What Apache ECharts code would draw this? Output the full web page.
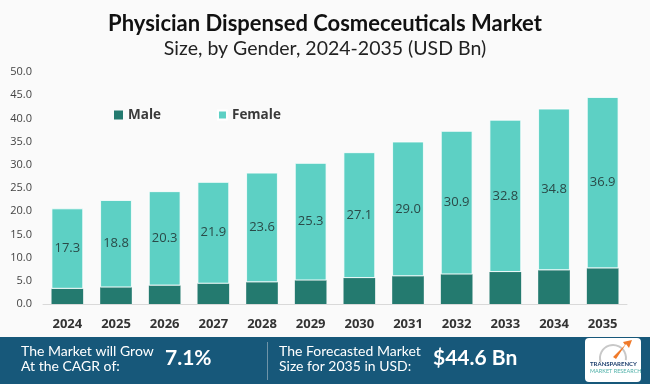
<!DOCTYPE html>
<html>
<head>
<meta charset="utf-8">
<script src="https://cdn.jsdelivr.net/npm/echarts@6/dist/echarts.min.js"></script>
<style>
html,body{margin:0;padding:0;background:#fafafa;}
#c{width:650px;height:384px;}
</style>
</head>
<body>
<div id="c"></div>
<script>
var years = ['2024','2025','2026','2027','2028','2029','2030','2031','2032','2033','2034','2035'];
var male = [3.3, 3.6, 4.0, 4.4, 4.7, 5.1, 5.6, 6.0, 6.4, 6.9, 7.3, 7.7];
var female = [17.3, 18.8, 20.3, 21.9, 23.6, 25.3, 27.1, 29.0, 30.9, 32.8, 34.8, 36.9];
var yTicks = [0, 5, 10, 15, 20, 25, 30, 35, 40, 45, 50];

var chart = echarts.init(document.getElementById('c'));
chart.setOption({
  backgroundColor: '#fafafa',
  animation: false,
  title: [{
    text: 'Physician Dispensed Cosmeceuticals Market',
    left: 'center', top: 8,
    textStyle: {fontFamily: 'Lato', fontWeight: 'bold', fontSize: 22, color: '#111'}
  }, {
    text: 'Size, by Gender, 2024-2035 (USD Bn)',
    left: 'center', top: 34,
    textStyle: {fontFamily: 'Lato', fontWeight: 'normal', fontSize: 19.5, color: '#222'}
  }],
  legend: {
    left: 109, top: 103,
    itemWidth: 9, itemHeight: 9, itemGap: 56,
    icon: 'rect',
    textStyle: {fontFamily: 'Open Sans', fontWeight: 'bold', fontSize: 13.5, color: '#3a3a3a'},
    data: ['Male', 'Female']
  },
  grid: {left: 43, right: 23, top: 72, bottom: 80},
  xAxis: {
    type: 'category',
    data: years,
    axisLine: {lineStyle: {color: '#d9d9d9'}},
    axisTick: {show: false},
    axisLabel: {fontFamily: 'Open Sans', fontWeight: 'bold', fontSize: 13, color: '#333', margin: 14}
  },
  yAxis: {
    type: 'value',
    min: yTicks[0], max: yTicks[yTicks.length - 1], interval: 5,
    axisLine: {show: false},
    axisTick: {show: false},
    splitLine: {show: false},
    axisLabel: {fontFamily: 'Open Sans', fontSize: 11, color: '#444', margin: 11,
      formatter: function (v) { return v.toFixed(1); }}
  },
  series: [{
    name: 'Male', type: 'bar', stack: 't', data: male, barWidth: '65%',
    itemStyle: {color: '#247a6f'}
  }, {
    name: 'Female', type: 'bar', stack: 't', data: female, barWidth: '65%',
    itemStyle: {color: '#5dd0c4', borderColor: '#ffffff', borderWidth: 0.8},
    label: {show: true, position: 'inside', fontFamily: 'Open Sans', fontSize: 13, color: '#2a4a48',
      formatter: function (p) { return p.value.toFixed(1); }}
  }],
  graphic: [
    {type: 'rect', left: 0, top: 337, shape: {width: 650, height: 47}, style: {fill: '#17587a'}, z: 10},
    {type: 'rect', left: 267, top: 342, shape: {width: 1, height: 38}, style: {fill: '#6f94a8'}, z: 11},
    {type: 'text', left: 21, top: 344, z: 11, style: {text: 'The Market will Grow\nAt the CAGR of:', fill: '#fff', font: '14px Lato', lineHeight: 15}},
    {type: 'text', left: 165, top: 348, z: 11, style: {text: '7.1%', fill: '#fff', font: 'bold 21px Lato'}},
    {type: 'text', left: 279, top: 344, z: 11, style: {text: 'The Forecasted Market\nSize for 2035 in USD:', fill: '#fff', font: '14px Lato', lineHeight: 15}},
    {type: 'text', left: 433, top: 348, z: 11, style: {text: '$44.6 Bn', fill: '#fff', font: 'bold 21px Lato'}},
    {type: 'rect', left: 585, top: 338, shape: {width: 56, height: 44, r: 4}, style: {fill: '#ffffff'}, z: 11},
    {type: 'arc', z: 12, shape: {cx: 613, cy: 358, r: 13, startAngle: Math.PI * 0.9, endAngle: Math.PI * 2.05}, style: {stroke: '#c8c8c8', lineWidth: 2, fill: null}},
    {type: 'polygon', z: 13, shape: {points: [[616, 359], [626, 344], [629, 348], [632, 340], [623, 342], [625, 345], [613, 357]]}, style: {fill: '#f07a2a'}},
    {type: 'text', left: 590, top: 361, z: 13, style: {text: 'TRANSPARENCY', fill: '#1d3f6e', font: 'bold 6px Lato'}},
    {type: 'text', left: 590, top: 368, z: 13, style: {text: 'MARKET RESEARCH', fill: '#4fb0a8', font: '5.5px Lato'}}
  ]
});
</script>
</body>
</html>
